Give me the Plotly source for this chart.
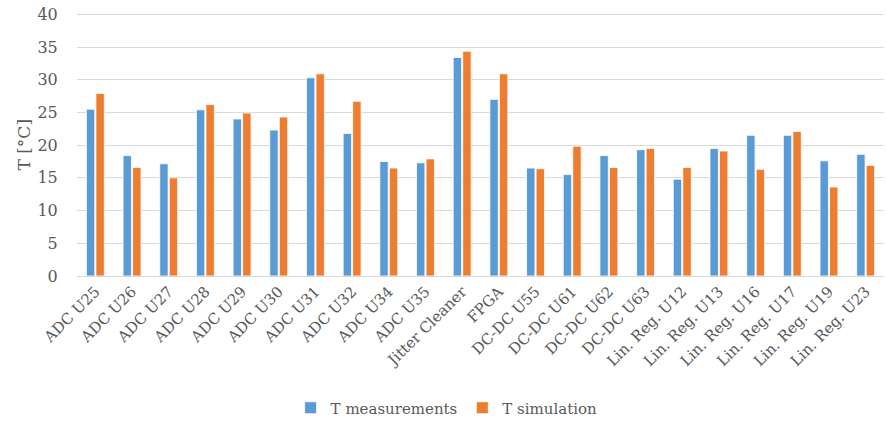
import plotly.graph_objects as go

categories = ["ADC U25", "ADC U26", "ADC U27", "ADC U28", "ADC U29", "ADC U30",
              "ADC U31", "ADC U32", "ADC U34", "ADC U35", "Jitter Cleaner", "FPGA",
              "DC-DC U55", "DC-DC U61", "DC-DC U62", "DC-DC U63",
              "Lin. Reg. U12", "Lin. Reg. U13", "Lin. Reg. U16", "Lin. Reg. U17",
              "Lin. Reg. U19", "Lin. Reg. U23"]
t_measurements = [25.5, 18.4, 17.15, 25.4, 24.0, 22.3, 30.3, 21.8, 17.5, 17.3, 33.4, 27.0,
                  16.5, 15.5, 18.4, 19.3, 14.8, 19.5, 21.5, 21.5, 17.6, 18.6]
t_simulation = [27.9, 16.6, 15.0, 26.2, 24.9, 24.3, 30.9, 26.7, 16.5, 17.9, 34.35, 30.9,
                16.4, 19.85, 16.6, 19.5, 16.6, 19.1, 16.3, 22.1, 13.6, 16.9]
y_ticks = [0, 5, 10, 15, 20, 25, 30, 35, 40]

font_family = "DejaVu Serif"
grey = "#595959"

W, H = 886, 423
ML, MR, MT, MB = 77, 2, 13, 147
plot_w = W - ML - MR

fig = go.Figure()
fig.add_trace(go.Bar(x=categories, y=t_measurements, name="T measurements",
                     marker=dict(color="#5B9BD5", line=dict(color="#ffffff", width=0.8))))
fig.add_trace(go.Bar(x=categories, y=t_simulation, name="T simulation",
                     marker=dict(color="#ED7D31", line=dict(color="#ffffff", width=0.8))))

fig.update_layout(
    width=W, height=H,
    margin=dict(l=ML, r=MR, t=MT, b=MB),
    plot_bgcolor="white", paper_bgcolor="white",
    barmode="group", bargap=0.48, bargroupgap=0.12,
    font=dict(family=font_family, size=15, color=grey),
    showlegend=True,
    legend=dict(orientation="h", x=0.458, xanchor="center",
                yref="container", y=0.0355, yanchor="middle",
                font=dict(family=font_family, size=15, color=grey),
                itemwidth=30, traceorder="normal"),
    xaxis=dict(tickangle=-45, tickfont=dict(size=15, color=grey), showgrid=False,
               showline=True, linecolor="#d9d9d9", linewidth=1, ticks="",
               automargin=False),
    yaxis=dict(range=[0, 40.2], tickvals=y_ticks, tickfont=dict(size=16, color=grey),
               showgrid=True, gridcolor="#d9d9d9", gridwidth=1, zeroline=False,
               showline=False, ticks="outside", ticklen=15,
               tickcolor="rgba(0,0,0,0)", automargin=False),
    annotations=[dict(text="T [°C]", textangle=-90, xref="paper", yref="paper",
                      x=-(ML - 23) / plot_w, y=0.5, xanchor="center", yanchor="middle",
                      showarrow=False, font=dict(family=font_family, size=17, color=grey))],
)

fig.write_html("out.html", config={"displayModeBar": False},
               post_script="document.body.style.margin='0';")
